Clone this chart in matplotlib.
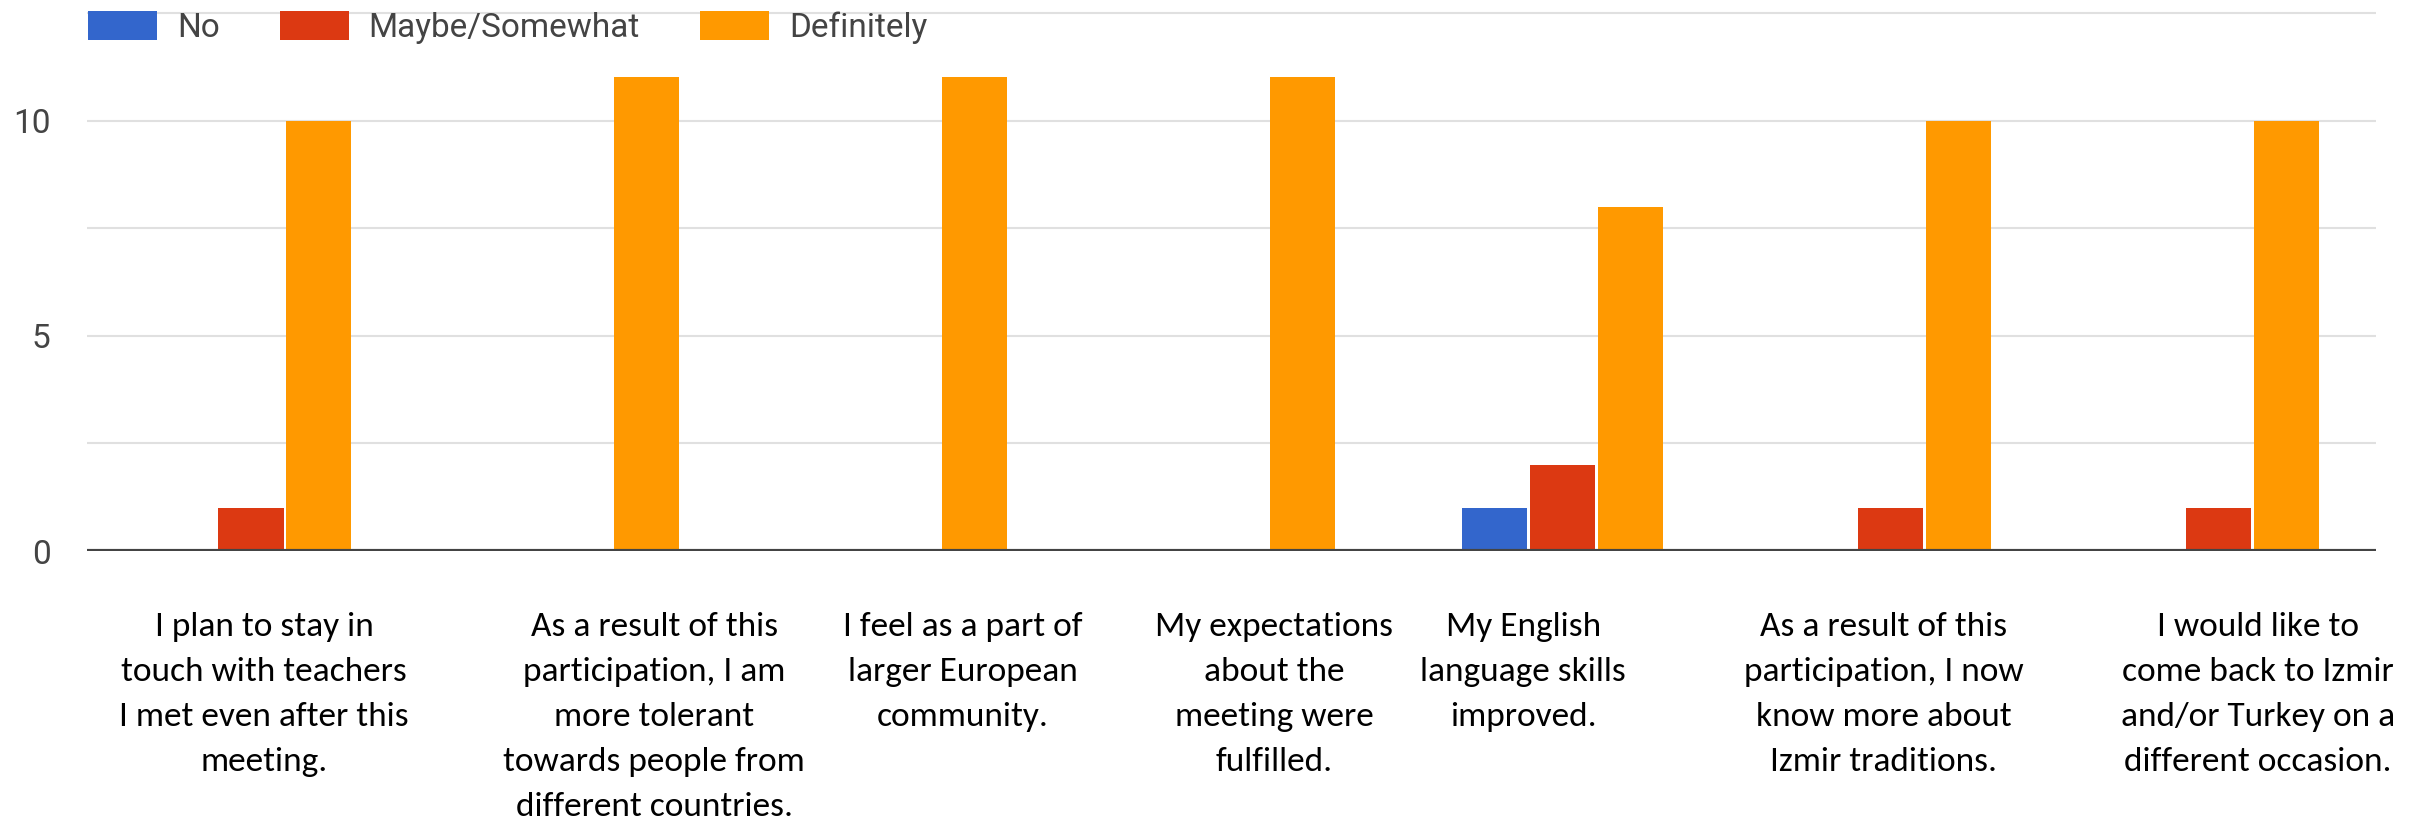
import numpy as np
import matplotlib.pyplot as plt

questions = [
    'I plan to stay in\ntouch with teachers\nI met even after this\nmeeting.',
    'As a result of this\nparticipation, I am\nmore tolerant\ntowards people from\ndifferent countries.',
    'I feel as a part of\nlarger European\ncommunity.',
    'My expectations\nabout the\nmeeting were\nfulfilled.',
    'My English\nlanguage skills\nimproved.',
    'As a result of this\nparticipation, I now\nknow more about\nIzmir traditions.',
    'I would like to\ncome back to Izmir\nand/or Turkey on a\ndifferent occasion.',
]
series_names = ['No', 'Maybe/Somewhat', 'Definitely']
no_vals = [0, 0, 0, 0, 1, 0, 0]
maybe_vals = [1, 0, 0, 0, 2, 1, 1]
definitely_vals = [10, 11, 11, 11, 8, 10, 10]
yticks = [0, 5, 10]

colors = ['#3366CC', '#DC3912', '#FF9900']
# label centres (the text below the chart is not aligned to the groups exactly)
label_x = [0.04, 1.23, 2.17, 3.12, 3.88, 4.98, 6.12]

fig = plt.figure(figsize=(24.12, 8.25), dpi=100)
ax = fig.add_axes([0.036, 0.332, 0.949, 0.668])

x = np.arange(len(questions))
w = 0.2
step = 0.207
for i, (vals, name, c) in enumerate(zip([no_vals, maybe_vals, definitely_vals], series_names, colors)):
    ax.bar(x + (i - 1) * step, vals, width=w, color=c, label=name, zorder=3)

ax.set_xlim(-0.5, 6.48)
ax.set_ylim(0, 12.8)
for g in np.arange(2.5, 13, 2.5):
    ax.axhline(g, color='#e0e0e0', lw=1.5, zorder=1)
ax.axhline(0, color='#444444', lw=3, zorder=4)

ax.set_yticks(yticks)
ax.set_yticklabels([str(t) for t in yticks], fontsize=24, color='#444444', family=['Roboto', 'DejaVu Sans'])
ax.tick_params(axis='y', length=0, pad=26)
ax.set_xticks([])
for s in ax.spines.values():
    s.set_visible(False)

leg = ax.legend(loc='center left', bbox_to_anchor=(0.0005, 0.95), ncol=3, frameon=False,
                prop={'family': ['Roboto', 'DejaVu Sans'], 'size': 24},
                borderaxespad=0, borderpad=0, handlelength=2.07, handleheight=0.93,
                columnspacing=1.8, handletextpad=0.6)
for t in leg.get_texts():
    t.set_color('#444444')

for lx, q in zip(label_x, questions):
    ax.text(lx, -1.42, q, ha='center', va='top', fontsize=25.5, linespacing=1.62,
            family=['Carlito', 'DejaVu Sans'], color='black')

fig.savefig('out.png', dpi=100)
